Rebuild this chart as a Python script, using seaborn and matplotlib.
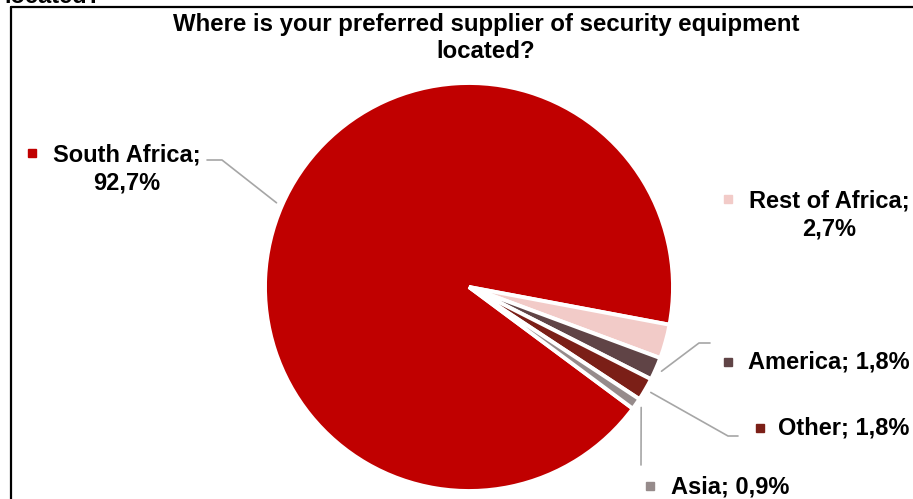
import numpy as np
import matplotlib.pyplot as plt
import seaborn as sns

sns.set_theme(style="white")
plt.rcParams['font.family'] = ['Liberation Sans', 'DejaVu Sans']

# data
regions = ["South Africa", "Rest of Africa", "America", "Other", "Asia"]
shares = [92.7, 2.7, 1.8, 1.8, 0.9]
share_labels = ["92,7%", "2,7%", "1,8%", "1,8%", "0,9%"]
slice_colors = ["#C00000", "#F2CBC8", "#604446", "#7B1F17", "#968B8B"]
title = "Where is your preferred supplier of security equipment\nlocated?"

W, H = 913, 499


def py(y):
    """Convert a top-down pixel row to the bottom-up axes coordinate."""
    return H - y


# label layout in pixels: text centre, marker centre, leader elbow (None = no leader)
label_layout = {
    "South Africa": dict(text=(127, 169), marker=(32, 153), wrap=True,
                         leader=[(207, 160), (222, 160)]),
    "Rest of Africa": dict(text=(829, 215), marker=(728, 199), wrap=True,
                           leader=None),
    "America": dict(text=(829, 362), marker=(728, 362), wrap=False,
                    leader=[(710, 343), (699, 343)]),
    "Other": dict(text=(844, 428), marker=(760, 428), wrap=False,
                  leader=[(738, 436), (728, 436)]),
    "Asia": dict(text=(730, 487), marker=(650, 486), wrap=False,
                 leader=[(641, 465)]),
}

fig = plt.figure(figsize=(W / 100, H / 100), dpi=100)
ax = fig.add_axes([0, 0, 1, 1])

wedges, _ = ax.pie(shares, colors=slice_colors, startangle=323.4,
                   counterclock=False, center=(469, py(287)), radius=204,
                   explode=[0, 0.02, 0.02, 0.02, 0.02],
                   wedgeprops=dict(edgecolor="white", linewidth=2.8))
ax.set_xlim(0, W)
ax.set_ylim(0, H)
ax.set_aspect("equal")
ax.axis("off")

for region, pct, color, w in zip(regions, share_labels, slice_colors, wedges):
    lay = label_layout[region]
    sep = "\n" if lay["wrap"] else " "
    tx, ty = lay["text"]
    ax.text(tx, py(ty), f"{region};{sep}{pct}", ha="center", va="center",
            multialignment="center", fontsize=17, fontweight="bold",
            linespacing=1.3, color="black")
    mx, my = lay["marker"]
    ax.plot(mx, py(my), marker="s", markersize=5.5, color=color,
            linestyle="none")
    if lay["leader"]:
        mid = np.deg2rad((w.theta1 + w.theta2) / 2)
        cx, cy = w.center
        ax_pt = (cx + w.r * 1.03 * np.cos(mid), cy + w.r * 1.03 * np.sin(mid))
        pts = [(x, py(y)) for x, y in lay["leader"]] + [ax_pt]
        xs, ys = zip(*pts)
        ax.plot(xs, ys, color="#A6A6A6", linewidth=1.2, clip_on=False)

# chart title and the cut-off heading above the frame
ax.text(486, py(38), title, ha="center", va="center", fontsize=17.3,
        fontweight="bold", linespacing=1.2, color="black")
ax.text(4, py(3), "located?", ha="left", va="baseline", fontsize=17,
        fontweight="bold", clip_on=False, color="black")

# chart frame (top and left edges visible)
ax.plot([10.5, W], [py(7), py(7)], color="black", linewidth=1.6, clip_on=False)
ax.plot([10.5, 10.5], [py(7), 0], color="black", linewidth=1.6, clip_on=False)

fig.savefig("out.png", dpi=100)
